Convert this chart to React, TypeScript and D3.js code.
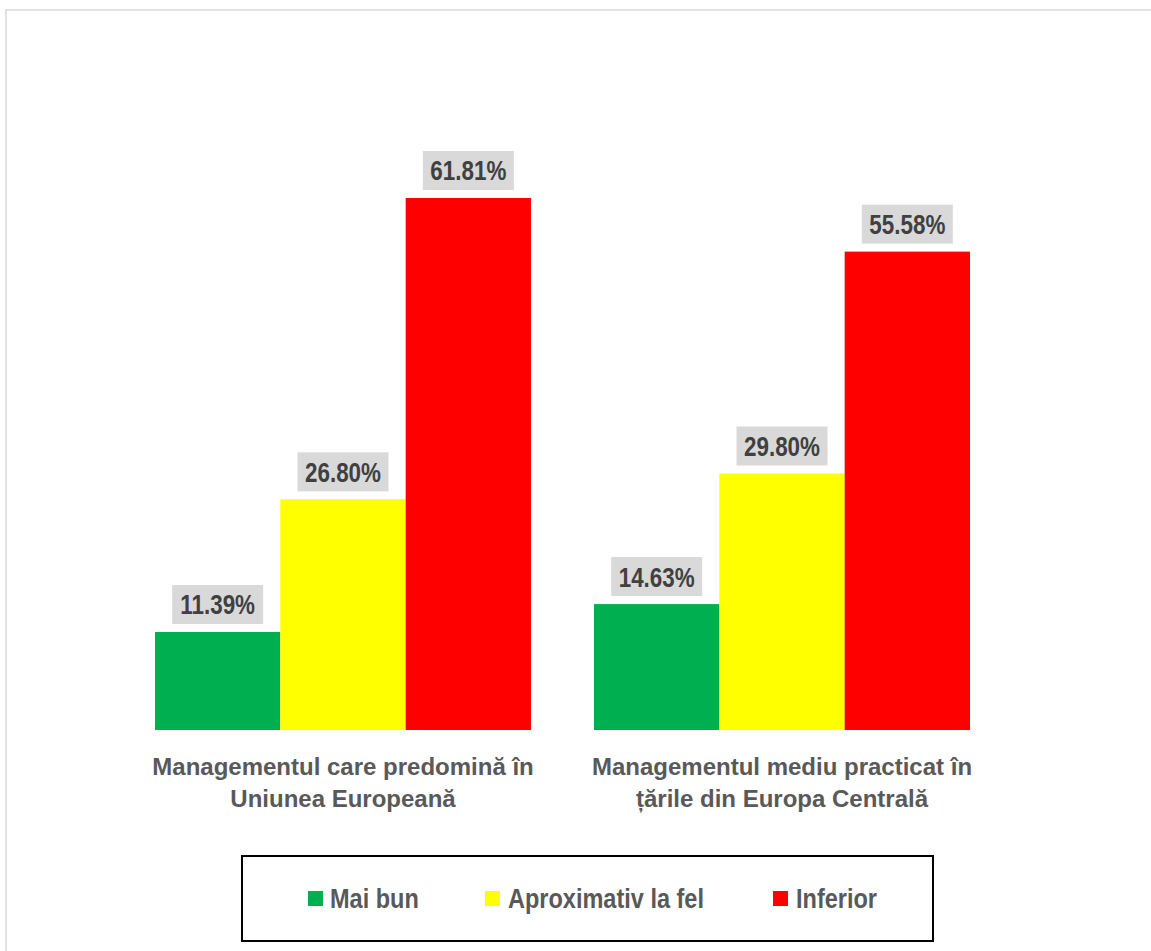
import React from "react";
import * as d3 from "d3";

const categories = [
  ["Managementul care predomină în", "Uniunea Europeană"],
  ["Managementul mediu practicat în", "țările din Europa Centrală"],
];
const seriesNames = ["Mai bun", "Aproximativ la fel", "Inferior"];
const seriesColors = ["#00B050", "#FFFF00", "#FF0000"];
const maiBun = [11.39, 14.63];
const aproximativ = [26.8, 29.8];
const inferior = [61.81, 55.58];
const yTicks = [0, 70];

const W = 1151;
const H = 951;
const FONT = "'Liberation Sans', Arial, sans-serif";

// Narrowed bold text, drawn at (x, y) and squeezed horizontally by sx.
function NarrowText(props: {
  x: number;
  y: number;
  sx: number;
  size: number;
  fill: string;
  anchor?: "start" | "middle" | "end";
  children: React.ReactNode;
}) {
  const { x, y, sx, size, fill, anchor = "start", children } = props;
  return (
    <g transform={`translate(${x},${y}) scale(${sx},1)`}>
      <text x={0} y={0} textAnchor={anchor} fontSize={size} fontWeight="bold" fill={fill}>
        {children}
      </text>
    </g>
  );
}

export default function App() {
  const values = [maiBun, aproximativ, inferior];
  const catKeys = categories.map((c) => c.join(" "));
  const p = 63 / 439;
  const x0 = d3
    .scaleBand<string>()
    .domain(catKeys)
    .range([123.5, 1001.5])
    .paddingInner(p)
    .paddingOuter(p / 2);
  const x1 = d3
    .scaleBand<string>()
    .domain(seriesNames)
    .range([0, x0.bandwidth()])
    .padding(0);
  const y = d3.scaleLinear().domain([yTicks[0], yTicks[1]]).range([730, 127.5]);

  const boxW = 91;
  const boxH = 39;
  const boxGap = 8;

  const legendItems = [
    { sq: 308, tx: 330 },
    { sq: 485, tx: 508 },
    { sq: 773, tx: 796 },
  ];

  return (
    <svg
      width={W}
      height={H}
      style={{ position: "absolute", left: 0, top: 0, background: "#fff" }}
      fontFamily={FONT}
    >
      <rect x={6} y={10} width={W} height={H} fill="#fff" stroke="#D9D9D9" strokeWidth={1.5} />

      {catKeys.map((ck, ci) => (
        <g key={ck} transform={`translate(${x0(ck)},0)`}>
          {seriesNames.map((s, si) => {
            const v = values[si][ci];
            const bx = x1(s)!;
            const top = y(v);
            const cx = bx + x1.bandwidth() / 2;
            return (
              <g key={s}>
                <rect
                  x={bx}
                  y={top}
                  width={x1.bandwidth()}
                  height={y(0) - top}
                  fill={seriesColors[si]}
                />
                <rect
                  x={cx - boxW / 2}
                  y={top - boxGap - boxH}
                  width={boxW}
                  height={boxH}
                  fill="#D9D9D9"
                />
                <NarrowText
                  x={cx}
                  y={top - boxGap - boxH / 2 + 10}
                  sx={0.8}
                  size={28}
                  fill="#404040"
                  anchor="middle"
                >
                  {v.toFixed(2)}%
                </NarrowText>
              </g>
            );
          })}
          {categories[ci].map((line, li) => (
            <text
              key={li}
              x={x0.bandwidth() / 2}
              y={775 + li * 32}
              textAnchor="middle"
              fontSize={24}
              fontWeight="bold"
              fill="#595959"
            >
              {line}
            </text>
          ))}
        </g>
      ))}

      <rect x={242} y={856} width={691} height={85} fill="#fff" stroke="#000" strokeWidth={2} />
      {seriesNames.map((s, si) => (
        <g key={s}>
          <rect x={legendItems[si].sq} y={891} width={15} height={15} fill={seriesColors[si]} />
          <NarrowText x={legendItems[si].tx} y={908} sx={0.84} size={28} fill="#595959">
            {s}
          </NarrowText>
        </g>
      ))}
    </svg>
  );
}
